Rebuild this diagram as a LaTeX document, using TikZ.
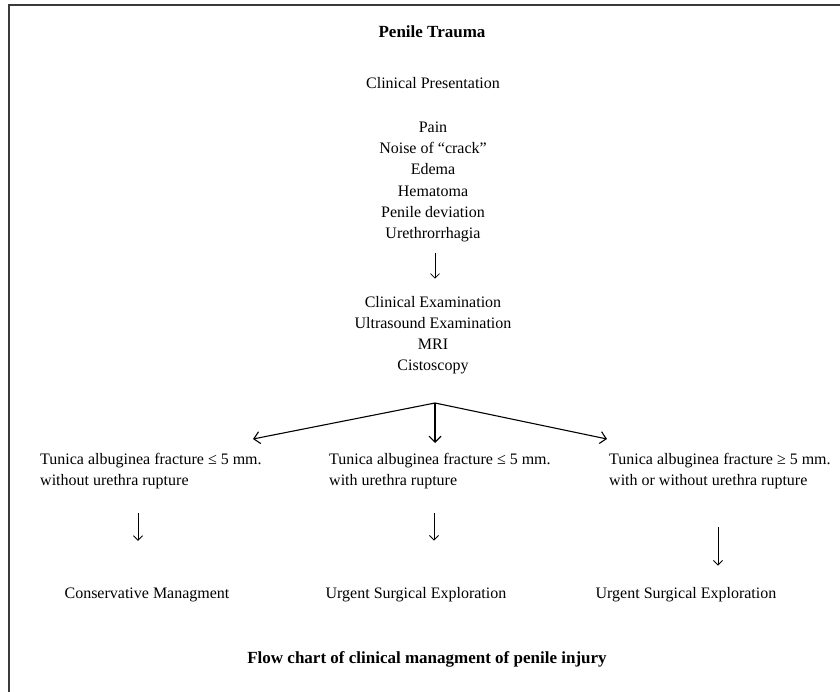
\documentclass[tikz,border=0pt]{standalone}
\usepackage{fontspec}
\setmainfont{Liberation Serif}
\usepackage{tikz}
\usetikzlibrary{arrows.meta,positioning}
\usepackage{xcolor}
\definecolor{framegray}{HTML}{3A3A3A}

\begin{document}
\begin{tikzpicture}[x=1pt, y=-1pt,
  txt/.style={inner sep=0pt, align=center, font=\fontsize{16}{21.2}\selectfont},
  bold/.style={inner sep=0pt, font=\fontsize{17}{20}\selectfont\bfseries},
  arr/.style={line width=1.1pt, -{Straight Barb[length=6pt,width=12pt]}},
  downarr/.style={line width=0.8pt, -{Straight Barb[length=4.5pt,width=9pt]}}]
  \useasboundingbox (0,0) rectangle (840,692);
  \draw[framegray, line width=2pt] (9,692) -- (9,5) -- (840,5);

  \node[bold] (title) at (432,32) {Penile Trauma};
  \node[txt] (pres) at (433,83) {Clinical Presentation};
  \node[txt] (signs) at (433,182) {Pain\\Noise of ``crack''\\Edema\\Hematoma\\Penile deviation\\Urethrorrhagia};
  \node[txt] (exams) at (433,335) {Clinical Examination\\Ultrasound Examination\\MRI\\Cistoscopy};
  \draw[downarr, shorten <=11pt, shorten >=17pt] (signs.south -| 435,0) -- (exams.north -| 435,0);

  % three branches
  \coordinate (fork) at (435,403);
  \coordinate (toleft) at (253,439);
  \coordinate (tomid) at (435,443);
  \coordinate (toright) at (607,439);
  \draw[arr] (fork) -- (toleft);
  \draw[arr] (fork) -- (tomid);
  \draw[arr] (fork) -- (toright);

  \node[txt, align=left, anchor=west] (small) at (40,471) {Tunica albuginea fracture ≤ 5 mm.\\without urethra rupture};
  \node[txt, align=left, anchor=west] (smallur) at (329,471) {Tunica albuginea fracture ≤ 5 mm.\\with urethra rupture};
  \node[txt, align=left, anchor=west] (large) at (609,471) {Tunica albuginea fracture ≥ 5 mm.\\with or without urethra rupture};

  \node[txt] (cons) at (147,595) {Conservative Managment};
  \node[txt] (surgmid) at (416,595) {Urgent Surgical Exploration};
  \node[txt] (surgright) at (686,595) {Urgent Surgical Exploration};

  \draw[downarr, shorten <=24pt, shorten >=47pt] (small.south -| 138,0) -- (cons.north -| 138,0);
  \draw[downarr, shorten <=24pt, shorten >=47pt] (smallur.south -| 434,0) -- (surgmid.north -| 434,0);
  \draw[downarr, shorten <=38pt, shorten >=22pt] (large.south -| 718,0) -- (surgright.north -| 718,0);

  \node[bold] (caption) at (427,659) {Flow chart of clinical managment of penile injury};
\end{tikzpicture}
\end{document}
